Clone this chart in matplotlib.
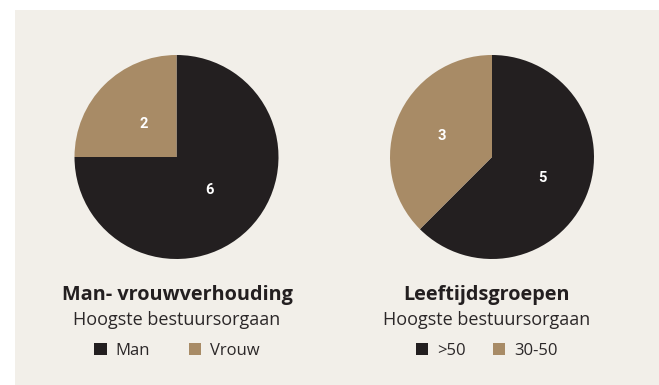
import matplotlib.pyplot as plt
from matplotlib.patches import Rectangle

# samenstelling hoogste bestuursorgaan
geslacht_labels = ["Man", "Vrouw"]
geslacht_waarden = [6, 2]

leeftijd_labels = [">50", "30-50"]
leeftijd_waarden = [5, 3]

donker = "#231f20"
goud = "#a88b66"
achtergrond = "#f2efe9"
tekst = "#2b2728"

W, H = 659, 385
fig = plt.figure(figsize=(W / 100, H / 100), dpi=100, facecolor="white")
fig.patches.append(Rectangle((15 / W, 0), 1, 1 - 10 / H, transform=fig.transFigure,
                             facecolor=achtergrond, edgecolor="none", zorder=-1))


def taart(cx, cy, r, waarden, labels, titel, tx, ldist, ncolsp):
    ax = fig.add_axes([(cx - r) / W, 1 - (cy + r) / H, 2 * r / W, 2 * r / H])
    wedges, _ = ax.pie(waarden, colors=[donker, goud], startangle=90, counterclock=False,
                       radius=1, labels=[str(v) for v in waarden], labeldistance=ldist,
                       textprops=dict(color="white", fontsize=10.5, weight="semibold",
                                      family=["Roboto", "DejaVu Sans"]),
                       wedgeprops=dict(linewidth=0))
    for t in ax.texts:
        t.set_ha("center")
        t.set_va("center")
    ax.set_xlim(-1, 1)
    ax.set_ylim(-1, 1)
    ax.axis("off")

    fig.text(tx / W, 1 - 300 / H, titel, ha="center", va="baseline", fontsize=14.3,
             weight="bold", family="Open Sans", color=donker)
    fig.text(tx / W, 1 - 325 / H, "Hoogste bestuursorgaan", ha="center", va="baseline",
             fontsize=13, family="Open Sans", color=tekst)
    fig.legend(wedges, labels, loc="center", bbox_to_anchor=(tx / W, 1 - 351 / H),
               ncol=2, frameon=False, handlelength=0.75, handleheight=0.75,
               handletextpad=0.55, columnspacing=ncolsp,
               prop=dict(family="Open Sans", size=12), labelcolor=tekst)


taart(176.5, 157, 102, geslacht_waarden, geslacht_labels, "Man- vrouwverhouding", 177, 0.46, 2.3)
taart(492, 157, 102, leeftijd_waarden, leeftijd_labels, "Leeftijdsgroepen", 487, 0.53, 1.6)

fig.savefig("out.png", dpi=100, facecolor="white")
